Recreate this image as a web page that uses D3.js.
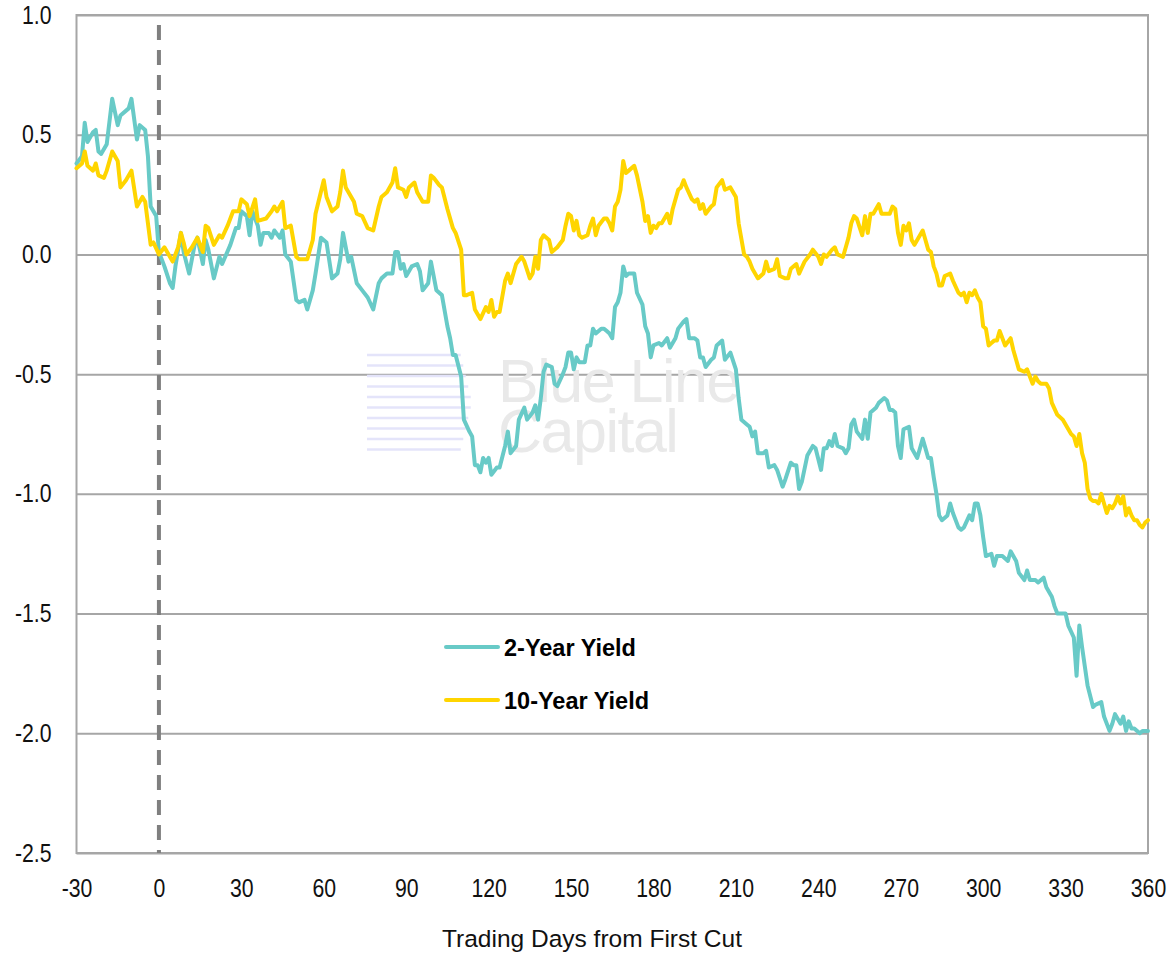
<!DOCTYPE html>
<html>
<head>
<meta charset="utf-8">
<script src="https://cdn.jsdelivr.net/npm/d3@7"></script>
<style>
  html, body { margin: 0; padding: 0; background: #ffffff; }
  svg { display: block; }
</style>
</head>
<body>
<svg id="chart" width="1168" height="956"></svg>
<script>
// Axis ticks
const xTicks = [-30, 0, 30, 60, 90, 120, 150, 180, 210, 240, 270, 300, 330, 360];
const yTicks = [1.0, 0.5, 0.0, -0.5, -1.0, -1.5, -2.0, -2.5];
const firstCutDay = 0;
const seriesNames = ["2-Year Yield", "10-Year Yield"];
const xAxisTitle = "Trading Days from First Cut";
const watermarkLines = ["Blue Line", "Capital"];

// 2-Year yield change (percentage points) by trading day
const twoYearDays = [
  -30,-28,-27,-26,-24,-23,-22,-21,-19,-17,-15,-14,-11,-10,-8,-7,-5,-4,-3,-1,
  0,2,4,5,6,8,9,11,13,14,16,17,18,20,22,23,26,28,29,
  30,32,33,34,36,37,38,40,41,42,44,45,46,48,50,51,53,54,56,57,59,
  61,63,65,66,67,69,70,72,74,76,78,80,81,83,85,86,87,88,89,
  90,92,94,95,96,98,99,101,103,105,106,107,108,110,111,113,114,115,116,117,118,119,
  120,121,123,124,126,127,128,130,131,133,134,136,137,138,139,140,141,143,144,145,147,148,149,
  150,151,152,153,155,156,157,158,159,161,162,163,164,165,166,167,168,169,170,171,173,174,176,177,178,179,
  180,182,183,185,186,188,189,191,192,193,195,196,197,198,199,201,202,203,205,206,208,
  210,211,212,214,215,216,217,218,220,221,222,224,225,227,228,230,231,232,233,234,236,238,239,
  241,242,243,244,245,246,247,249,250,251,252,253,254,256,257,258,259,261,262,264,265,266,267,268,269,
  270,271,273,274,276,278,279,280,281,282,283,284,285,287,288,289,291,292,293,295,296,297,298,299,
  300,301,303,304,305,307,309,310,312,313,315,316,317,319,320,322,323,325,326,327,329,
  330,331,333,334,335,336,337,338,340,341,343,344,346,347,348,350,351,352,353,354,355,357,358,360
];
const twoYearValues = [
  0.38,0.41,0.55,0.47,0.51,0.52,0.43,0.42,0.46,0.65,0.54,0.58,0.61,0.65,0.48,0.54,0.52,0.41,0.20,0.16,
  0.01,-0.05,-0.12,-0.14,-0.05,0.09,0.01,-0.08,0.04,0.07,-0.04,0.06,0.02,-0.10,-0.01,-0.04,0.04,0.11,0.11,
  0.18,0.16,0.08,0.18,0.12,0.04,0.09,0.09,0.07,0.10,0.07,0.10,0.00,-0.03,-0.19,-0.20,-0.19,-0.23,-0.15,-0.08,0.07,
  0.05,-0.10,-0.08,-0.02,0.09,-0.03,-0.01,-0.12,-0.15,-0.18,-0.23,-0.12,-0.10,-0.08,-0.08,0.01,0.01,-0.06,-0.04,
  -0.09,-0.05,-0.04,-0.07,-0.15,-0.12,-0.03,-0.15,-0.17,-0.30,-0.35,-0.42,-0.42,-0.51,-0.69,-0.74,-0.76,-0.88,-0.88,-0.91,-0.85,-0.87,
  -0.85,-0.92,-0.89,-0.89,-0.80,-0.74,-0.83,-0.80,-0.69,-0.64,-0.69,-0.66,-0.63,-0.69,-0.60,-0.49,-0.46,-0.47,-0.54,-0.55,-0.50,-0.47,-0.41,
  -0.41,-0.48,-0.43,-0.45,-0.45,-0.38,-0.38,-0.31,-0.33,-0.31,-0.31,-0.32,-0.33,-0.35,-0.22,-0.20,-0.16,-0.05,-0.09,-0.08,-0.08,-0.16,-0.21,-0.30,-0.33,-0.43,
  -0.38,-0.37,-0.38,-0.35,-0.39,-0.35,-0.31,-0.28,-0.27,-0.35,-0.35,-0.36,-0.43,-0.43,-0.47,-0.44,-0.43,-0.38,-0.36,-0.44,-0.41,
  -0.48,-0.60,-0.69,-0.71,-0.72,-0.76,-0.74,-0.83,-0.83,-0.82,-0.89,-0.88,-0.90,-0.97,-0.94,-0.87,-0.88,-0.88,-0.98,-0.95,-0.84,-0.80,-0.81,
  -0.90,-0.81,-0.81,-0.78,-0.80,-0.75,-0.80,-0.81,-0.83,-0.81,-0.71,-0.69,-0.74,-0.77,-0.69,-0.77,-0.66,-0.64,-0.62,-0.60,-0.61,-0.65,-0.65,-0.66,-0.80,
  -0.85,-0.73,-0.72,-0.81,-0.85,-0.77,-0.81,-0.85,-0.85,-0.93,-1.00,-1.09,-1.11,-1.09,-1.04,-1.08,-1.14,-1.15,-1.14,-1.09,-1.11,-1.04,-1.04,-1.09,
  -1.18,-1.26,-1.25,-1.30,-1.26,-1.26,-1.28,-1.24,-1.28,-1.33,-1.36,-1.32,-1.36,-1.36,-1.37,-1.35,-1.39,-1.43,-1.47,-1.50,-1.50,
  -1.50,-1.55,-1.60,-1.76,-1.55,-1.64,-1.72,-1.80,-1.89,-1.88,-1.87,-1.93,-1.99,-1.96,-1.92,-1.96,-1.93,-1.99,-1.95,-1.98,-1.98,-2.00,-1.99,-1.99
];

// 10-Year yield change (percentage points) by trading day
const tenYearDays = [
  -30,-28,-27,-26,-24,-23,-22,-20,-19,-17,-15,-14,-12,-10,-8,-6,-5,-3,-2,
  0,2,4,5,7,8,9,10,12,14,16,17,18,20,22,23,25,27,29,
  30,32,33,35,36,39,41,42,43,45,46,48,50,51,54,56,57,
  60,61,63,65,66,67,68,71,72,74,76,78,80,81,83,85,86,87,89,
  90,91,93,94,96,98,99,100,102,103,105,107,108,110,111,112,114,115,117,119,
  120,121,122,123,124,126,127,128,130,132,133,135,136,137,138,139,140,142,143,145,147,148,149,
  150,151,152,153,154,156,157,158,159,160,162,163,164,165,166,167,168,169,170,171,173,174,176,177,178,179,
  180,181,182,183,185,186,187,189,190,191,192,194,195,196,197,198,199,201,202,203,205,206,208,
  210,211,213,214,215,216,218,220,221,222,224,225,226,228,229,230,232,233,235,237,238,
  240,241,242,243,245,246,247,249,250,251,252,253,254,256,257,258,259,260,261,262,263,265,266,267,268,269,
  270,271,272,273,274,275,276,278,279,280,281,282,283,284,285,286,288,289,291,292,293,294,295,296,297,298,299,
  300,301,302,303,304,305,306,307,308,310,311,312,313,315,316,317,318,319,320,321,323,324,325,327,328,329,
  331,332,333,334,335,336,337,338,339,340,341,342,343,344,345,346,347,348,349,350,351,352,353,354,355,356,357,358,359,360
];
const tenYearValues = [
  0.36,0.38,0.43,0.37,0.35,0.38,0.33,0.32,0.35,0.43,0.39,0.28,0.31,0.35,0.20,0.24,0.22,0.04,0.05,
  0.00,0.03,-0.01,-0.03,0.03,0.09,0.05,0.00,0.03,0.07,0.01,0.12,0.11,0.04,0.08,0.07,0.12,0.18,0.18,
  0.23,0.21,0.16,0.23,0.14,0.15,0.18,0.20,0.18,0.22,0.11,0.12,-0.01,-0.02,-0.02,0.06,0.17,
  0.31,0.24,0.18,0.20,0.26,0.35,0.28,0.22,0.17,0.16,0.11,0.10,0.20,0.24,0.26,0.30,0.36,0.28,0.27,
  0.24,0.28,0.30,0.26,0.22,0.22,0.33,0.32,0.29,0.28,0.19,0.11,0.09,0.02,-0.17,-0.17,-0.16,-0.23,-0.27,-0.22,
  -0.24,-0.19,-0.26,-0.24,-0.24,-0.11,-0.08,-0.12,-0.04,-0.01,-0.03,-0.10,-0.08,-0.01,-0.06,0.06,0.08,0.06,0.01,0.03,0.06,0.12,0.17,
  0.16,0.10,0.14,0.08,0.07,0.08,0.12,0.15,0.08,0.12,0.15,0.15,0.13,0.10,0.20,0.22,0.27,0.39,0.34,0.35,0.37,0.33,0.22,0.14,0.16,0.09,
  0.12,0.11,0.13,0.13,0.17,0.13,0.19,0.27,0.28,0.31,0.28,0.23,0.22,0.23,0.19,0.21,0.17,0.20,0.21,0.28,0.31,0.27,0.28,
  0.24,0.13,0.00,-0.01,-0.03,-0.06,-0.10,-0.08,-0.03,-0.07,-0.06,-0.02,-0.09,-0.10,-0.10,-0.06,-0.04,-0.08,-0.03,0.00,0.02,
  -0.01,-0.04,0.00,-0.01,0.02,0.03,0.00,-0.01,0.03,0.07,0.13,0.16,0.15,0.08,0.16,0.09,0.17,0.17,0.19,0.21,0.17,0.17,0.17,0.20,0.19,0.09,
  0.04,0.12,0.10,0.13,0.06,0.04,0.06,0.10,0.06,0.02,0.01,-0.05,-0.08,-0.13,-0.13,-0.09,-0.08,-0.11,-0.16,-0.17,-0.16,-0.20,-0.16,-0.17,-0.15,-0.18,-0.20,
  -0.30,-0.31,-0.38,-0.37,-0.36,-0.36,-0.32,-0.35,-0.38,-0.35,-0.40,-0.44,-0.48,-0.49,-0.48,-0.51,-0.54,-0.51,-0.53,-0.54,-0.54,-0.56,-0.62,-0.67,-0.68,-0.69,
  -0.73,-0.75,-0.76,-0.80,-0.75,-0.83,-0.87,-0.98,-1.02,-1.03,-1.03,-1.04,-1.00,-1.04,-1.08,-1.05,-1.06,-1.04,-1.01,-1.04,-1.01,-1.09,-1.06,-1.09,-1.11,-1.11,-1.13,-1.14,-1.12,-1.11
];

const seriesColors = ["#68CAC7", "#FFD500"];

// ---- layout ----
const svg = d3.select("#chart");
const plot = { left: 76.5, right: 1148, top: 15, bottom: 853 };
const sansFont = "'Liberation Sans', Arial, sans-serif";
const gridColor = "#a6a6a6";
const narrow = 0.85;   // horizontal squeeze giving a narrow face for the tick labels
const tickFontSize = 25;

// number format with a plain hyphen for negatives
const locale = d3.formatLocale({ decimal: ".", thousands: ",", grouping: [3], currency: ["$", ""], minus: "-" });
const fmtY = locale.format(".1f");
const fmtX = locale.format("d");

const x = d3.scaleLinear().domain([-30, 360]).range([plot.left, plot.right]);
const y = d3.scaleLinear().domain([-2.5, 1.0]).range([plot.bottom, plot.top]);

// Horizontal gridlines
const grid = svg.append("g")
  .attr("transform", `translate(${plot.left},0)`)
  .call(d3.axisLeft(y).tickValues(yTicks).tickSize(-(plot.right - plot.left)).tickFormat(""));
grid.select(".domain").remove();
grid.selectAll(".tick line").attr("stroke", gridColor).attr("stroke-width", 2);

// Plot frame
svg.append("rect")
  .attr("x", plot.left).attr("y", plot.top)
  .attr("width", plot.right - plot.left).attr("height", plot.bottom - plot.top)
  .attr("fill", "none").attr("stroke", gridColor).attr("stroke-width", 2);

// Watermark: striped mark plus two-line name
const wm = svg.append("g").attr("class", "watermark");
wm.selectAll("line.stripe")
  .data(d3.range(10))
  .join("line")
  .attr("class", "stripe")
  .attr("x1", 367).attr("x2", d => 472 - Math.abs(d - 4.5) * 2.5)
  .attr("y1", d => 355 + d * 10.5).attr("y2", d => 355 + d * 10.5)
  .attr("stroke", "#e4e4fa").attr("stroke-width", 2.4);
const wmText = wm.append("text")
  .attr("font-family", sansFont).attr("font-size", 61)
  .attr("letter-spacing", -1.5).attr("fill", "#e9e9e9");
wmText.selectAll("tspan")
  .data(watermarkLines)
  .join("tspan")
  .attr("x", 498)
  .attr("y", (d, i) => 402 + i * 50)
  .text(d => d);

// Y axis labels
const yAxis = svg.append("g")
  .attr("transform", `translate(${plot.left},0)`)
  .call(d3.axisLeft(y).tickValues(yTicks).tickSize(0).tickPadding(25).tickFormat(fmtY));
yAxis.select(".domain").remove();
yAxis.selectAll("text")
  .attr("font-family", sansFont).attr("font-size", tickFontSize).attr("fill", "#111")
  .attr("x", -25 / narrow)
  .attr("transform", `scale(${narrow},1)`);

// X axis labels
const xAxis = svg.append("g")
  .attr("transform", `translate(0,${plot.bottom})`)
  .call(d3.axisBottom(x).tickValues(xTicks).tickSize(0).tickPadding(26).tickFormat(fmtX));
xAxis.select(".domain").remove();
xAxis.selectAll("text")
  .attr("font-family", sansFont).attr("font-size", tickFontSize).attr("fill", "#111")
  .attr("transform", `scale(${narrow},1)`);

// Axis title
svg.append("text")
  .attr("x", 592).attr("y", 947)
  .attr("text-anchor", "middle")
  .attr("font-family", sansFont).attr("font-size", 24.5).attr("fill", "#111")
  .text(xAxisTitle);

// First cut marker
svg.append("line")
  .attr("x1", x(firstCutDay)).attr("x2", x(firstCutDay))
  .attr("y1", 25).attr("y2", plot.bottom)
  .attr("stroke", "#7f7f7f").attr("stroke-width", 4)
  .attr("stroke-dasharray", "15,10");

// Series lines
const series = [
  { name: seriesNames[0], color: seriesColors[0], points: d3.zip(twoYearDays, twoYearValues) },
  { name: seriesNames[1], color: seriesColors[1], points: d3.zip(tenYearDays, tenYearValues) }
];
const line = d3.line().x(d => x(d[0])).y(d => y(d[1]));
svg.append("g").selectAll("path")
  .data(series)
  .join("path")
  .attr("d", d => line(d.points))
  .attr("fill", "none")
  .attr("stroke", d => d.color)
  .attr("stroke-width", 4)
  .attr("stroke-linejoin", "round")
  .attr("stroke-linecap", "round");

// Legend
const legend = svg.append("g").attr("transform", "translate(446,647)");
const item = legend.selectAll("g")
  .data(series)
  .join("g")
  .attr("transform", (d, i) => `translate(0,${i * 53})`);
item.append("line")
  .attr("x1", 0).attr("x2", 52).attr("y1", 0).attr("y2", 0)
  .attr("stroke", d => d.color).attr("stroke-width", 4).attr("stroke-linecap", "round");
item.append("text")
  .attr("x", 58).attr("y", 8.5)
  .attr("font-family", sansFont)
  .attr("font-weight", "bold").attr("font-size", 23.5).attr("fill", "#000")
  .text(d => d.name);
</script>
</body>
</html>
